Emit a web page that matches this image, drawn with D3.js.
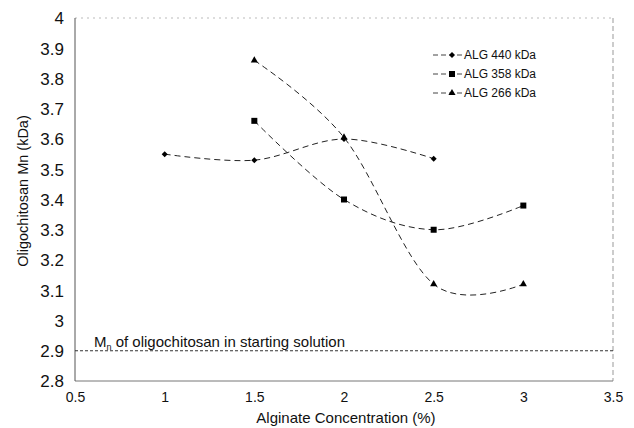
<!DOCTYPE html>
<html>
<head>
<meta charset="utf-8">
<script src="https://cdn.jsdelivr.net/npm/d3@7"></script>
<style>
    body { margin: 0; background: #fff; }
    svg text { font-family: "Liberation Sans", Arial, sans-serif; fill: #111; }
</style>
</head>
<body>
<svg id="chart" width="634" height="428"></svg>
<script>
// values
var seriesNames = ["ALG 440 kDa", "ALG 358 kDa", "ALG 266 kDa"];
var alg440 = [[1, 3.55], [1.5, 3.53], [2, 3.60], [2.5, 3.535]];
var alg358 = [[1.5, 3.66], [2, 3.40], [2.5, 3.30], [3, 3.38]];
var alg266 = [[1.5, 3.86], [2, 3.605], [2.5, 3.12], [3, 3.12]];
var startingMn = 2.9;
var xTicks = [0.5, 1, 1.5, 2, 2.5, 3, 3.5];
var yTicks = [2.8, 2.9, 3, 3.1, 3.2, 3.3, 3.4, 3.5, 3.6, 3.7, 3.8, 3.9, 4];

var svg = d3.select("#chart");

var x = d3.scaleLinear().domain([0.5, 3.5]).range([75, 613]);
var y = d3.scaleLinear().domain([2.8, 4]).range([381, 18]);

/***
 * frame: solid left/bottom, faint dotted top, dashed right
 */
function drawFrame() {
    svg.append("line")
        .attr("x1", x(0.5)).attr("x2", x(3.5))
        .attr("y1", y(4)).attr("y2", y(4))
        .attr("stroke", "#bbb").attr("stroke-width", 1)
        .attr("stroke-dasharray", "2,4");
    svg.append("line")
        .attr("x1", x(3.5)).attr("x2", x(3.5))
        .attr("y1", y(4)).attr("y2", y(2.8))
        .attr("stroke", "#999").attr("stroke-width", 1)
        .attr("stroke-dasharray", "5,3");
    svg.append("line")
        .attr("x1", x(0.5)).attr("x2", x(3.5))
        .attr("y1", y(2.8)).attr("y2", y(2.8))
        .attr("stroke", "#777").attr("stroke-width", 1);
    svg.append("line")
        .attr("x1", x(0.5)).attr("x2", x(0.5))
        .attr("y1", y(4)).attr("y2", y(2.8))
        .attr("stroke", "#555").attr("stroke-width", 1);
}

function drawAxes() {
    var yAxis = d3.axisLeft(y).tickValues(yTicks).tickSize(0).tickPadding(11)
        .tickFormat(d3.format("~g"));
    var gy = svg.append("g").attr("transform", "translate(" + x(0.5) + ",0)").call(yAxis);
    gy.select(".domain").remove();
    gy.selectAll("text")
        .style("font-size", "17px")
        .attr("dy", "0.35em");

    var xAxis = d3.axisBottom(x).tickValues(xTicks).tickSize(0).tickPadding(11)
        .tickFormat(d3.format("~g"));
    var gx = svg.append("g").attr("transform", "translate(0," + y(2.8) + ")").call(xAxis);
    gx.select(".domain").remove();
    gx.selectAll("text").style("font-size", "14px");

    svg.append("text")
        .attr("x", 346)
        .attr("y", 423)
        .attr("text-anchor", "middle")
        .style("font-size", "15px")
        .text("Alginate Concentration (%)");

    svg.append("text")
        .attr("transform", "translate(28,191) rotate(-90)")
        .attr("text-anchor", "middle")
        .style("font-size", "14.5px")
        .text("Oligochitosan Mn (kDa)");
}

function drawReference() {
    svg.append("line")
        .attr("x1", x(0.5)).attr("x2", x(3.5))
        .attr("y1", y(startingMn)).attr("y2", y(startingMn))
        .attr("stroke", "#333").attr("stroke-width", 1)
        .attr("stroke-dasharray", "3,2");

    var t = svg.append("text")
        .attr("x", 94)
        .attr("y", 347)
        .style("font-size", "15px");
    t.append("tspan").text("M");
    t.append("tspan").attr("dy", 3).style("font-size", "9px").text("n");
    t.append("tspan").attr("dy", -3).text(" of oligochitosan in starting solution");
}

// diamond is drawn as a square turned 45 degrees, like the spreadsheet marker
var symbols = [d3.symbolSquare, d3.symbolSquare, d3.symbolTriangle];
var symbolSizes = [18, 36, 22];
var symbolTurn = [45, 0, 0];

function markerTransform(px, py, i) {
    return "translate(" + px + "," + py + ") rotate(" + symbolTurn[i] + ")";
}

function drawSeries(data, i) {
    var line = d3.line()
        .x(function (d) { return x(d[0]); })
        .y(function (d) { return y(d[1]); })
        .curve(d3.curveCatmullRom.alpha(0));

    svg.append("path")
        .datum(data)
        .attr("d", line)
        .attr("fill", "none")
        .attr("stroke", "#222")
        .attr("stroke-width", 1)
        .attr("stroke-dasharray", "6,4");

    svg.selectAll(".pt" + i)
        .data(data)
        .enter()
        .append("path")
        .attr("class", "pt" + i)
        .attr("d", d3.symbol().type(symbols[i]).size(symbolSizes[i]))
        .attr("transform", function (d) {
            return markerTransform(x(d[0]), y(d[1]), i);
        })
        .attr("fill", "#000");
}

function drawLegend() {
    var rowY = [55, 74, 93];
    for (var i = 0; i < seriesNames.length; i++) {
        svg.append("line")
            .attr("x1", 433).attr("x2", 463)
            .attr("y1", rowY[i]).attr("y2", rowY[i])
            .attr("stroke", "#444").attr("stroke-width", 1)
            .attr("stroke-dasharray", "5,3");
        svg.append("path")
            .attr("d", d3.symbol().type(symbols[i]).size(symbolSizes[i]))
            .attr("transform", markerTransform(452, rowY[i], i))
            .attr("fill", "#000");
        svg.append("text")
            .attr("x", 464)
            .attr("y", rowY[i])
            .attr("dy", "0.35em")
            .style("font-size", "12px")
            .text(seriesNames[i]);
    }
}

drawFrame();
drawReference();
drawAxes();
[alg440, alg358, alg266].forEach(drawSeries);
drawLegend();
</script>
</body>
</html>
